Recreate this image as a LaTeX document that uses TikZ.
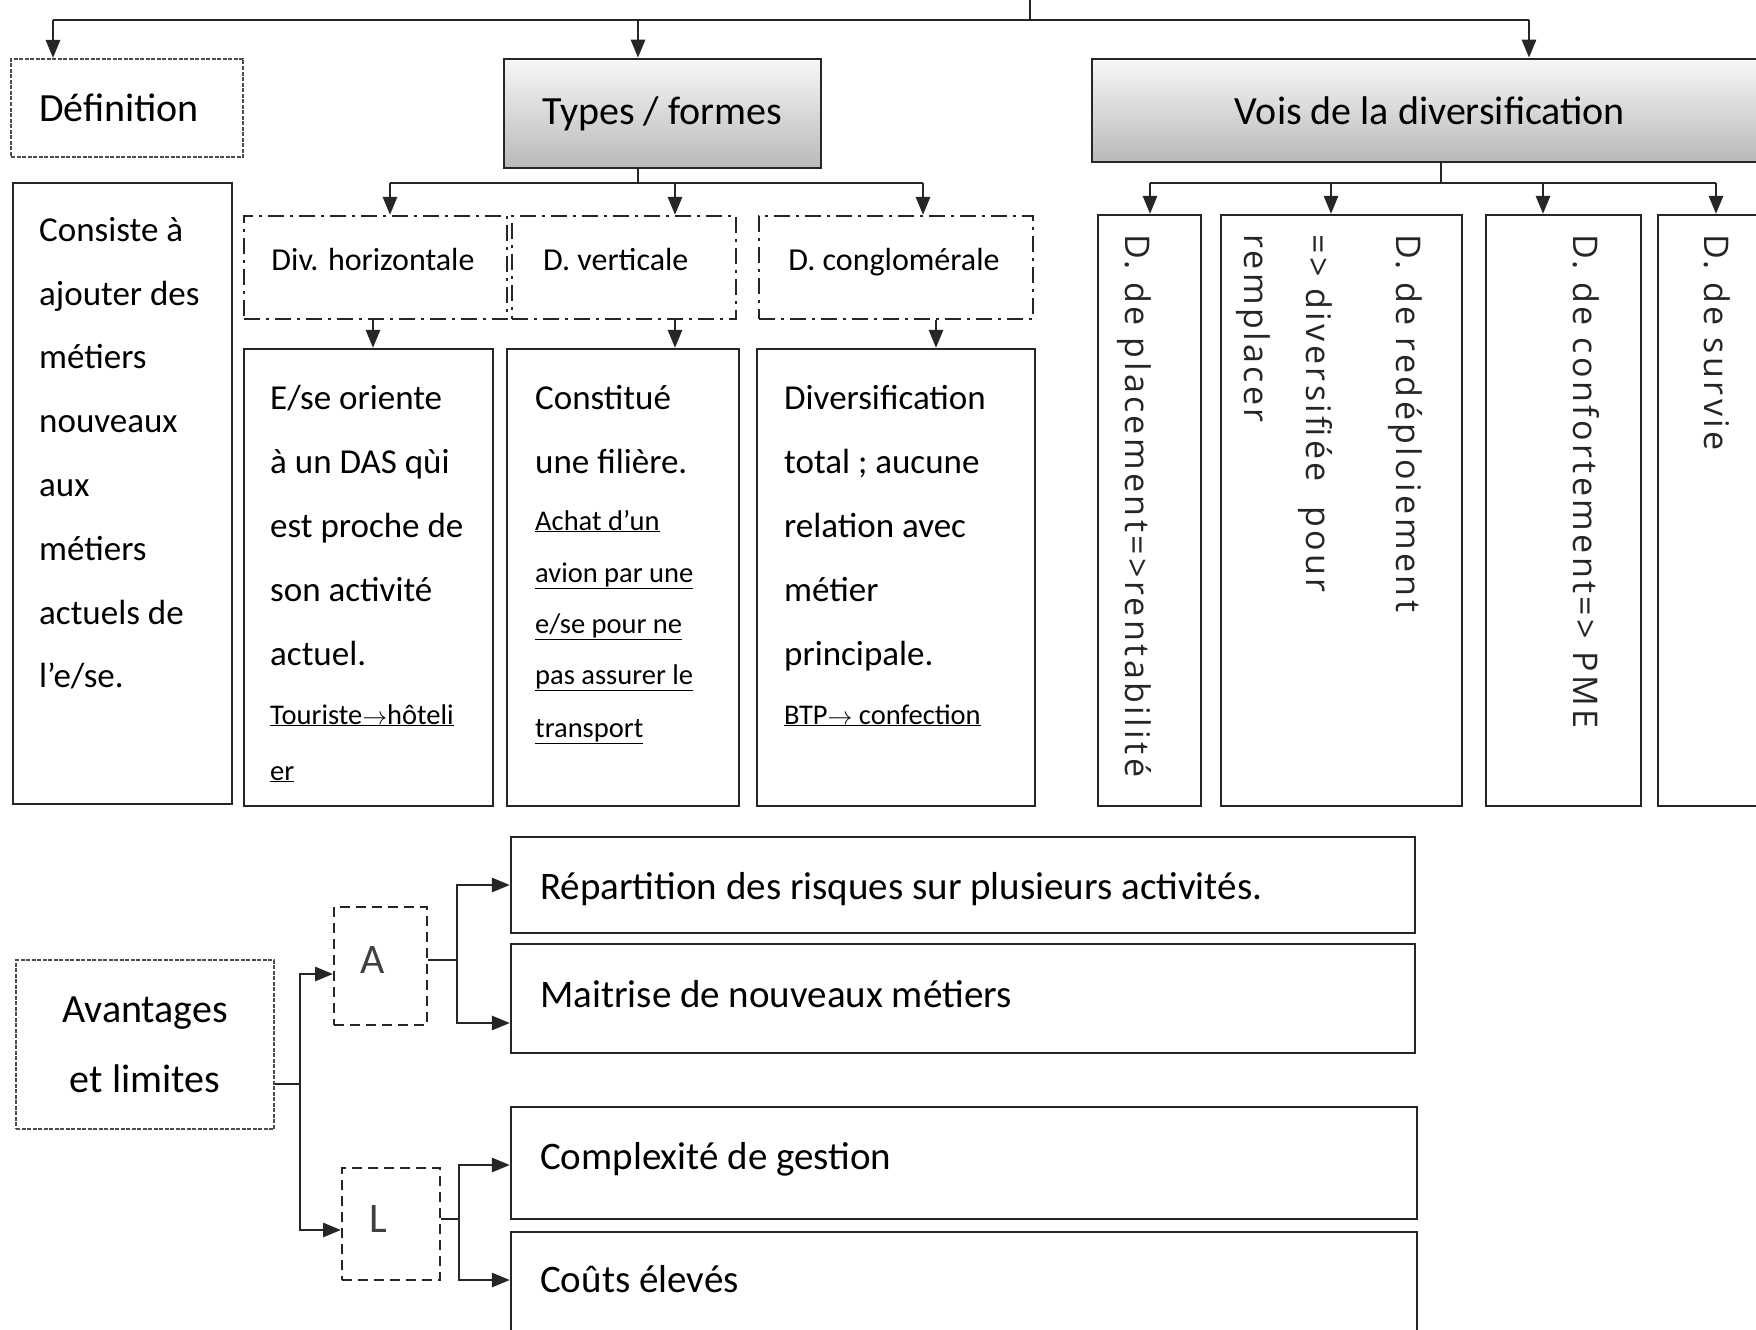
\documentclass[tikz,border=0pt]{standalone}
\usepackage{fontspec}
\setmainfont{Carlito}
\newfontfamily\rotfont[LetterSpace=10]{Open Sans}
\usetikzlibrary{arrows.meta,calc}
\newcommand\fhead{\fontsize{40}{48}\selectfont}
\newcommand\fbot{\fontsize{39}{46}\selectfont}
\newcommand\fbody{\fontsize{35}{42}\selectfont}
\newcommand\fsmall{\fontsize{28.5}{34}\selectfont}
\newcommand\fdd{\fontsize{32}{38}\selectfont}
\newcommand\frot{\rotfont\fontsize{34}{40}\selectfont}
\begin{document}
\begin{tikzpicture}[x=1pt,y=-1pt,
  ln/.style={line width=2.8pt, draw=black!85},
  arr/.style={ln, -{Triangle[length=18pt,width=14pt]}},
  box/.style={draw=black!85, line width=2.2pt, inner sep=0pt},
  sz/.style 2 args={minimum width=#1, minimum height=#2},
  ddot/.style={box, dash pattern=on 16pt off 6pt on 3pt off 6pt},
  dsh/.style={box, dash pattern=on 10pt off 6pt, line width=2pt},
  fine/.style={box, dash pattern=on 4pt off 1.5pt, draw=black!70, line width=2pt},
  shadebox/.style={box, line width=2.6pt, top color=gray!6, bottom color=gray!55},
  txt/.style={inner sep=0pt, anchor=base west, text=black},
  rot/.style={inner sep=0pt, anchor=base west, rotate=-90, font=\frot, text=black!85}
]
\useasboundingbox (0,0) rectangle (1756,1330);
\clip (0,0) rectangle (1756,1330);
\fill[white] (0,0) rectangle (1756,1330);

% ---------- top level ----------
\node[fine, sz={232}{98}] (def) at (127,108) {};
\node[inner sep=0pt, font=\fhead] (deft) at (119,108) {Définition};
\node[shadebox, sz={317}{109}, font=\fhead] (types) at (662.5,113.5) {Types / formes};
\node[shadebox, sz={676}{103}, font=\fhead] (vois) at (1430,110.5) {Vois de la diversification};

\coordinate (top) at (1030,0);
\coordinate (tj) at (1030,20);
\coordinate (t1) at (53,20);
\coordinate (t2) at (638,20);
\coordinate (t3) at (1529,20);
\draw[ln] (top) -- (tj);
\draw[ln] (t1) -- (t3);
\draw[arr] (t1) -- (def.north -| t1);
\draw[arr] (t2) -- (types.north -| t2);
\draw[arr] (t3) -- (vois.north -| t3);

% ---------- types ----------
\node[ddot, sz={263}{103}] (h) at (375.5,267.5) {};
\node[ddot, sz={224}{103}] (v) at (624,267.5) {};
\node[ddot, sz={274}{103}] (cg) at (896,267.5) {};
\node[txt, anchor=base, font=\fdd] (ht) at (373,270) {Div. horizontale};
\node[txt, font=\fdd] (vt) at (543,270) {D. verticale};
\node[txt, anchor=base, font=\fdd] (cgt) at (894,270) {D. conglomérale};

\coordinate (ts) at (638,183);
\coordinate (b1) at (390,183);
\coordinate (b2) at (675,183);
\coordinate (b3) at (923,183);
\draw[ln] (types.south -| ts) -- (ts);
\draw[ln] (b1) -- (b3);
\draw[arr] (b1) -- (h.north -| b1);
\draw[arr] (b2) -- (v.north -| b2);
\draw[arr] (b3) -- (cg.north -| b3);

\node[box, sz={219}{621}] (cons) at (122.5,493.5) {};
\node[box, sz={249}{457}] (e) at (368.5,577.5) {};
\node[box, sz={232}{457}] (cst) at (623,577.5) {};
\node[box, sz={278}{457}] (dv) at (896,577.5) {};

\coordinate (d1) at (373,0);
\coordinate (d2) at (675,0);
\coordinate (d3) at (936,0);
\draw[arr] (h.south -| d1) -- (e.north -| d1);
\draw[arr] (v.south -| d2) -- (cst.north -| d2);
\draw[arr] (cg.south -| d3) -- (dv.north -| d3);

\begin{scope}[every node/.style={txt, font=\fbody}]
\node (c1) at (39,241) {Consiste à};
\node (c2) at (39,305) {ajouter des};
\node (c3) at (39,368) {métiers};
\node (c4) at (39,432) {nouveaux};
\node (c5) at (39,496) {aux};
\node (c6) at (39,560) {métiers};
\node (c7) at (39,624) {actuels de};
\node (c8) at (39,687) {l’e/se.};

\node (e1) at (270,409) {E/se oriente};
\node (e2) at (270,473) {à un DAS qùi};
\node (e3) at (270,537) {est proche de};
\node (e4) at (270,601) {son activité};
\node (e5) at (270,665) {actuel.};

\node (s1) at (535,409) {Constitué};
\node (s2) at (535,473) {une filière.};

\node (g1) at (784,409) {Diversification};
\node (g2) at (784,473) {total ; aucune};
\node (g3) at (784,537) {relation avec};
\node (g4) at (784,601) {métier};
\node (g5) at (784,665) {principale.};
\end{scope}

\begin{scope}[every node/.style={txt, font=\fsmall}]
\node (e6) at (270,724) {\underline{Touriste$\rightarrow$hôteli}};
\node (e7) at (270,780) {\underline{er}};
\node (s3) at (535,530) {\underline{Achat d’un}};
\node (s4) at (535,582) {\underline{avion par une}};
\node (s5) at (535,633) {\underline{e/se pour ne}};
\node (s6) at (535,684) {\underline{pas assurer le}};
\node (s7) at (535,737) {\underline{transport}};
\node (g6) at (784,724) {\underline{BTP$\rightarrow$ confection}};
\end{scope}

% ---------- voies ----------
\coordinate (vs) at (1441,183);
\coordinate (w1) at (1150,183);
\coordinate (w2) at (1331,183);
\coordinate (w3) at (1543,183);
\coordinate (w4) at (1716,183);
\node[box, sz={103}{591}] (v1) at (1149.5,510.5) {};
\node[box, sz={241}{591}] (v2) at (1341.5,510.5) {};
\node[box, sz={155}{591}] (v3) at (1563.5,510.5) {};
\node[box, sz={122}{591}] (v4) at (1719,510.5) {};
\draw[ln] (vois.south -| vs) -- (vs);
\draw[ln] (w1) -- (w4);
\draw[arr] (w1) -- (v1.north -| w1);
\draw[arr] (w2) -- (v2.north -| w2);
\draw[arr] (w3) -- (v3.north -| w3);
\draw[arr] (w4) -- (v4.north -| w4);

\node[rot] (r1) at (1125,234) {D. de placement=>rentabilité};
\node[rot] (r2a) at (1396,234) {D. de redéploiement};
\node[rot] (r2b) at (1306,234) {=> diversifiée~~pour};
\node[rot] (r2c) at (1244,234) {remplacer};
\node[rot] (r3) at (1573,234) {D. de confortement=> PME};
\node[rot] (r4) at (1704,234) {D. de survie};

% ---------- avantages et limites ----------
\node[fine, sz={258}{169}, align=center, font=\fontsize{40}{70}\selectfont] (av) at (145,1044.5) {Avantages\\et limites};
\node[dsh, sz={93}{118}] (A) at (380.5,966) {};
\node[dsh, sz={98}{112}] (L) at (391,1224) {};
\node[inner sep=0pt, font=\fontsize{42}{48}\selectfont, text=black!75] (At) at (373,960) {A};
\node[inner sep=0pt, font=\fontsize{42}{48}\selectfont, text=black!75] (Lt) at (378,1219) {L};

\node[box, sz={904}{96}] (R) at (963,885) {};
\node[box, sz={904}{109}] (M) at (963,998.5) {};
\node[box, sz={906}{112}] (Cx) at (964,1163) {};
\node[box, sz={906}{113}] (Co) at (964,1288.5) {};

\node[txt, font=\fbot] (Rt) at (540,899) {Répartition des risques sur plusieurs activités.};
\node[txt, font=\fbot] (Mt) at (540,1007) {Maitrise de nouveaux métiers};
\node[txt, font=\fbot] (Cxt) at (540,1169) {Complexité de gestion};
\node[txt, font=\fbot] (Cot) at (540,1292) {Coûts élevés};

\coordinate (j1) at (300,1084);
\coordinate (j1a) at (300,974);
\coordinate (j1b) at (300,1230);
\draw[ln] (av.east |- j1) -- (j1);
\draw[arr] (j1) -- (j1a) -- (A.west |- j1a);
\draw[arr] (j1) -- (j1b) -- (L.west |- j1b);

\coordinate (j2) at (457,960);
\coordinate (j2a) at (457,885);
\coordinate (j2b) at (457,1023);
\draw[ln] (A.east |- j2) -- (j2);
\draw[arr] (j2) -- (j2a) -- (R.west |- j2a);
\draw[arr] (j2) -- (j2b) -- (M.west |- j2b);

\coordinate (j3) at (459,1219);
\coordinate (j3a) at (459,1165);
\coordinate (j3b) at (459,1280);
\draw[ln] (L.east |- j3) -- (j3);
\draw[arr] (j3) -- (j3a) -- (Cx.west |- j3a);
\draw[arr] (j3) -- (j3b) -- (Co.west |- j3b);
\end{tikzpicture}
\end{document}
